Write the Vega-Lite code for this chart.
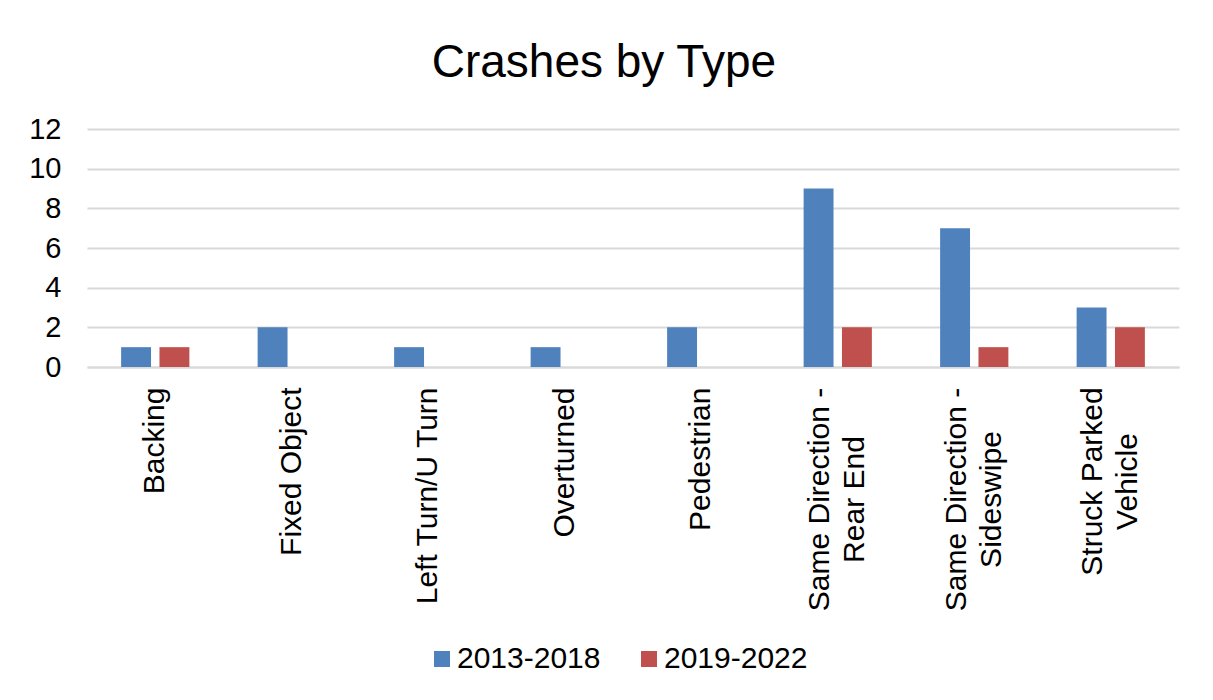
{
  "$schema": "https://vega.github.io/schema/vega-lite/v6.json",
  "width": 1092,
  "height": 238,
  "padding": {"left": 28, "top": 40, "right": 33, "bottom": 10},
  "background": "white",
  "title": {
    "text": "Crashes by Type",
    "fontSize": 46,
    "font": "Liberation Sans",
    "fontWeight": "normal",
    "color": "#000000",
    "anchor": "middle",
    "frame": "bounds",
    "offset": 28
  },
  "data": {
    "values": [
      {"type": "Backing", "period": "2013-2018", "crashes": 1},
      {"type": "Backing", "period": "2019-2022", "crashes": 1},
      {"type": "Fixed Object", "period": "2013-2018", "crashes": 2},
      {"type": "Fixed Object", "period": "2019-2022", "crashes": 0},
      {"type": "Left Turn/U Turn", "period": "2013-2018", "crashes": 1},
      {"type": "Left Turn/U Turn", "period": "2019-2022", "crashes": 0},
      {"type": "Overturned", "period": "2013-2018", "crashes": 1},
      {"type": "Overturned", "period": "2019-2022", "crashes": 0},
      {"type": "Pedestrian", "period": "2013-2018", "crashes": 2},
      {"type": "Pedestrian", "period": "2019-2022", "crashes": 0},
      {"type": "Same Direction -|Rear End", "period": "2013-2018", "crashes": 9},
      {"type": "Same Direction -|Rear End", "period": "2019-2022", "crashes": 2},
      {"type": "Same Direction -|Sideswipe", "period": "2013-2018", "crashes": 7},
      {"type": "Same Direction -|Sideswipe", "period": "2019-2022", "crashes": 1},
      {"type": "Struck Parked|Vehicle", "period": "2013-2018", "crashes": 3},
      {"type": "Struck Parked|Vehicle", "period": "2019-2022", "crashes": 2}
    ]
  },
  "mark": {"type": "bar"},
  "encoding": {
    "x": {
      "field": "type",
      "type": "nominal",
      "sort": null,
      "scale": {"paddingInner": 0.5, "paddingOuter": 0.25},
      "axis": {
        "title": null,
        "labelAngle": -90,
        "labelAlign": {"condition": {"test": "indexof(datum.value, '|') >= 0", "value": "center"}, "value": "right"},
        "labelBaseline": "middle",
        "labelExpr": "split(datum.label, '|')",
        "labelLineHeight": 35,
        "labelOffset": {"condition": {"test": "indexof(datum.value, '|') >= 0", "value": -17.5}, "value": 0},
        "labelPadding": {"condition": [
          {"test": "datum.value == 'Struck Parked|Vehicle'", "value": 114},
          {"test": "indexof(datum.value, '|') >= 0", "value": 132}
        ], "value": 20},
        "labelFontSize": 30,
        "labelFont": "Liberation Sans",
        "labelColor": "#000000",
        "ticks": false,
        "tickSize": 0,
        "domainColor": "#D9D9D9",
        "domainWidth": 2,
        "grid": false,
        "labelLimit": 400
      }
    },
    "xOffset": {
      "field": "period",
      "type": "nominal",
      "scale": {"domain": ["2013-2018", "2019-2022"], "paddingInner": 0.22, "paddingOuter": 0}
    },
    "y": {
      "field": "crashes",
      "type": "quantitative",
      "scale": {"domain": [0, 12], "nice": false},
      "axis": {
        "title": null,
        "values": [0, 2, 4, 6, 8, 10, 12],
        "labelFontSize": 29,
        "labelFont": "Liberation Sans",
        "labelColor": "#000000",
        "labelPadding": 26,
        "ticks": false,
        "tickSize": 0,
        "domain": false,
        "grid": true,
        "gridColor": "#D9D9D9",
        "gridWidth": 2
      }
    },
    "color": {
      "field": "period",
      "type": "nominal",
      "scale": {"domain": ["2013-2018", "2019-2022"], "range": ["#4F81BD", "#C0504D"]},
      "legend": {
        "title": null,
        "orient": "none",
        "legendX": 340,
        "legendY": 515,
        "direction": "horizontal",
        "symbolType": "square",
        "symbolSize": 256,
        "symbolStrokeWidth": 0,
        "labelFontSize": 30,
        "labelFont": "Liberation Sans",
        "labelColor": "#000000",
        "labelOffset": 0,
        "columnPadding": 33
      }
    }
  },
  "config": {
    "view": {"stroke": null},
    "font": "Liberation Sans"
  }
}
